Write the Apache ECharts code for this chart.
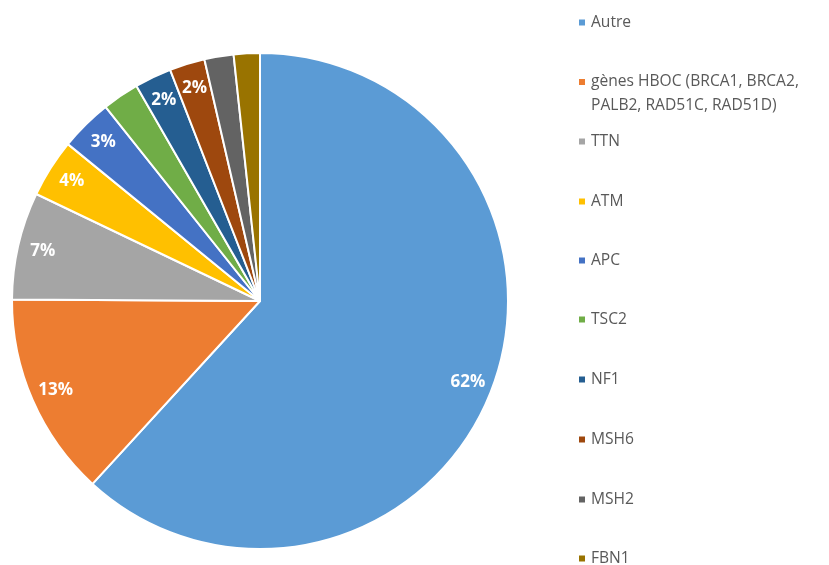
<!DOCTYPE html>
<html><head><meta charset="utf-8">
<script src="https://cdn.jsdelivr.net/npm/echarts@6/dist/echarts.min.js"></script>
<style>html,body{margin:0;padding:0;background:#fff}#c{width:829px;height:565px}</style>
</head><body><div id="c"></div>
<script>
const categories = ['Autre', 'gènes HBOC (BRCA1, BRCA2, PALB2, RAD51C, RAD51D)', 'TTN', 'ATM', 'APC', 'TSC2', 'NF1', 'MSH6', 'MSH2', 'FBN1'];
const values = [61.8, 13.3, 7.0, 3.8, 3.4, 2.4, 2.4, 2.3, 1.9, 1.7];
const showLabel = [true, true, true, true, true, false, true, true, false, false];
const colors = ['#5B9BD5', '#ED7D31', '#A5A5A5', '#FFC000', '#4472C4', '#70AD47', '#255E91', '#9E480E', '#636363', '#997300'];
const legendY = [21, 81, 140, 200, 259, 318, 378, 438, 498, 557];

const chart = echarts.init(document.getElementById('c'));
const font = 'Open Sans';
const fs = 15.6;
const legends = categories.map((name, i) => {
  const isLong = i === 1;
  return {
    orient: 'vertical', left: 577, top: isLong ? legendY[i] - 35 : legendY[i] - 8.5,
    padding: 0, itemWidth: 8, itemHeight: 8, icon: 'rect', selectedMode: false,
    data: [name],
    formatter: isLong ? () => '{e| }\n{a|gènes HBOC (BRCA1, BRCA2,}\n{a|PALB2, RAD51C, RAD51D)}' : undefined,
    textStyle: isLong ? {
      fontFamily: font, fontSize: fs, color: '#595959',
      rich: { e: { height: 24, lineHeight: 24, fontSize: fs }, a: { lineHeight: 24, fontSize: fs, color: '#595959', fontFamily: font } }
    } : { fontFamily: font, fontSize: fs, color: '#595959', lineHeight: 20 }
  };
});

const mainData = categories.map((n, i) => ({ name: n, value: values[i], itemStyle: { color: colors[i] } }));
const labelData = categories.map((n, i) => ({ name: n, value: values[i], label: { show: showLabel[i] } }));

chart.setOption({
  animation: false,
  color: colors,
  legend: legends,
  series: [
    {
      type: 'pie', center: [260, 301], radius: [0, 248], startAngle: 90, clockwise: true,
      label: { show: false }, labelLine: { show: false },
      itemStyle: { borderColor: '#fff', borderWidth: 2 },
      emphasis: { disabled: true },
      data: mainData
    },
    {
      type: 'pie', center: [260, 301], radius: [195, 245], startAngle: 90, clockwise: true,
      silent: true, avoidLabelOverlap: false,
      itemStyle: { color: 'rgba(0,0,0,0)', borderWidth: 0 },
      labelLine: { show: false },
      label: {
        position: 'inside', color: '#fff', fontWeight: 'bold', fontSize: 17, fontFamily: font,
        formatter: p => Math.round(p.percent) + '%'
      },
      emphasis: { disabled: true },
      data: labelData
    }
  ]
});
</script></body></html>
